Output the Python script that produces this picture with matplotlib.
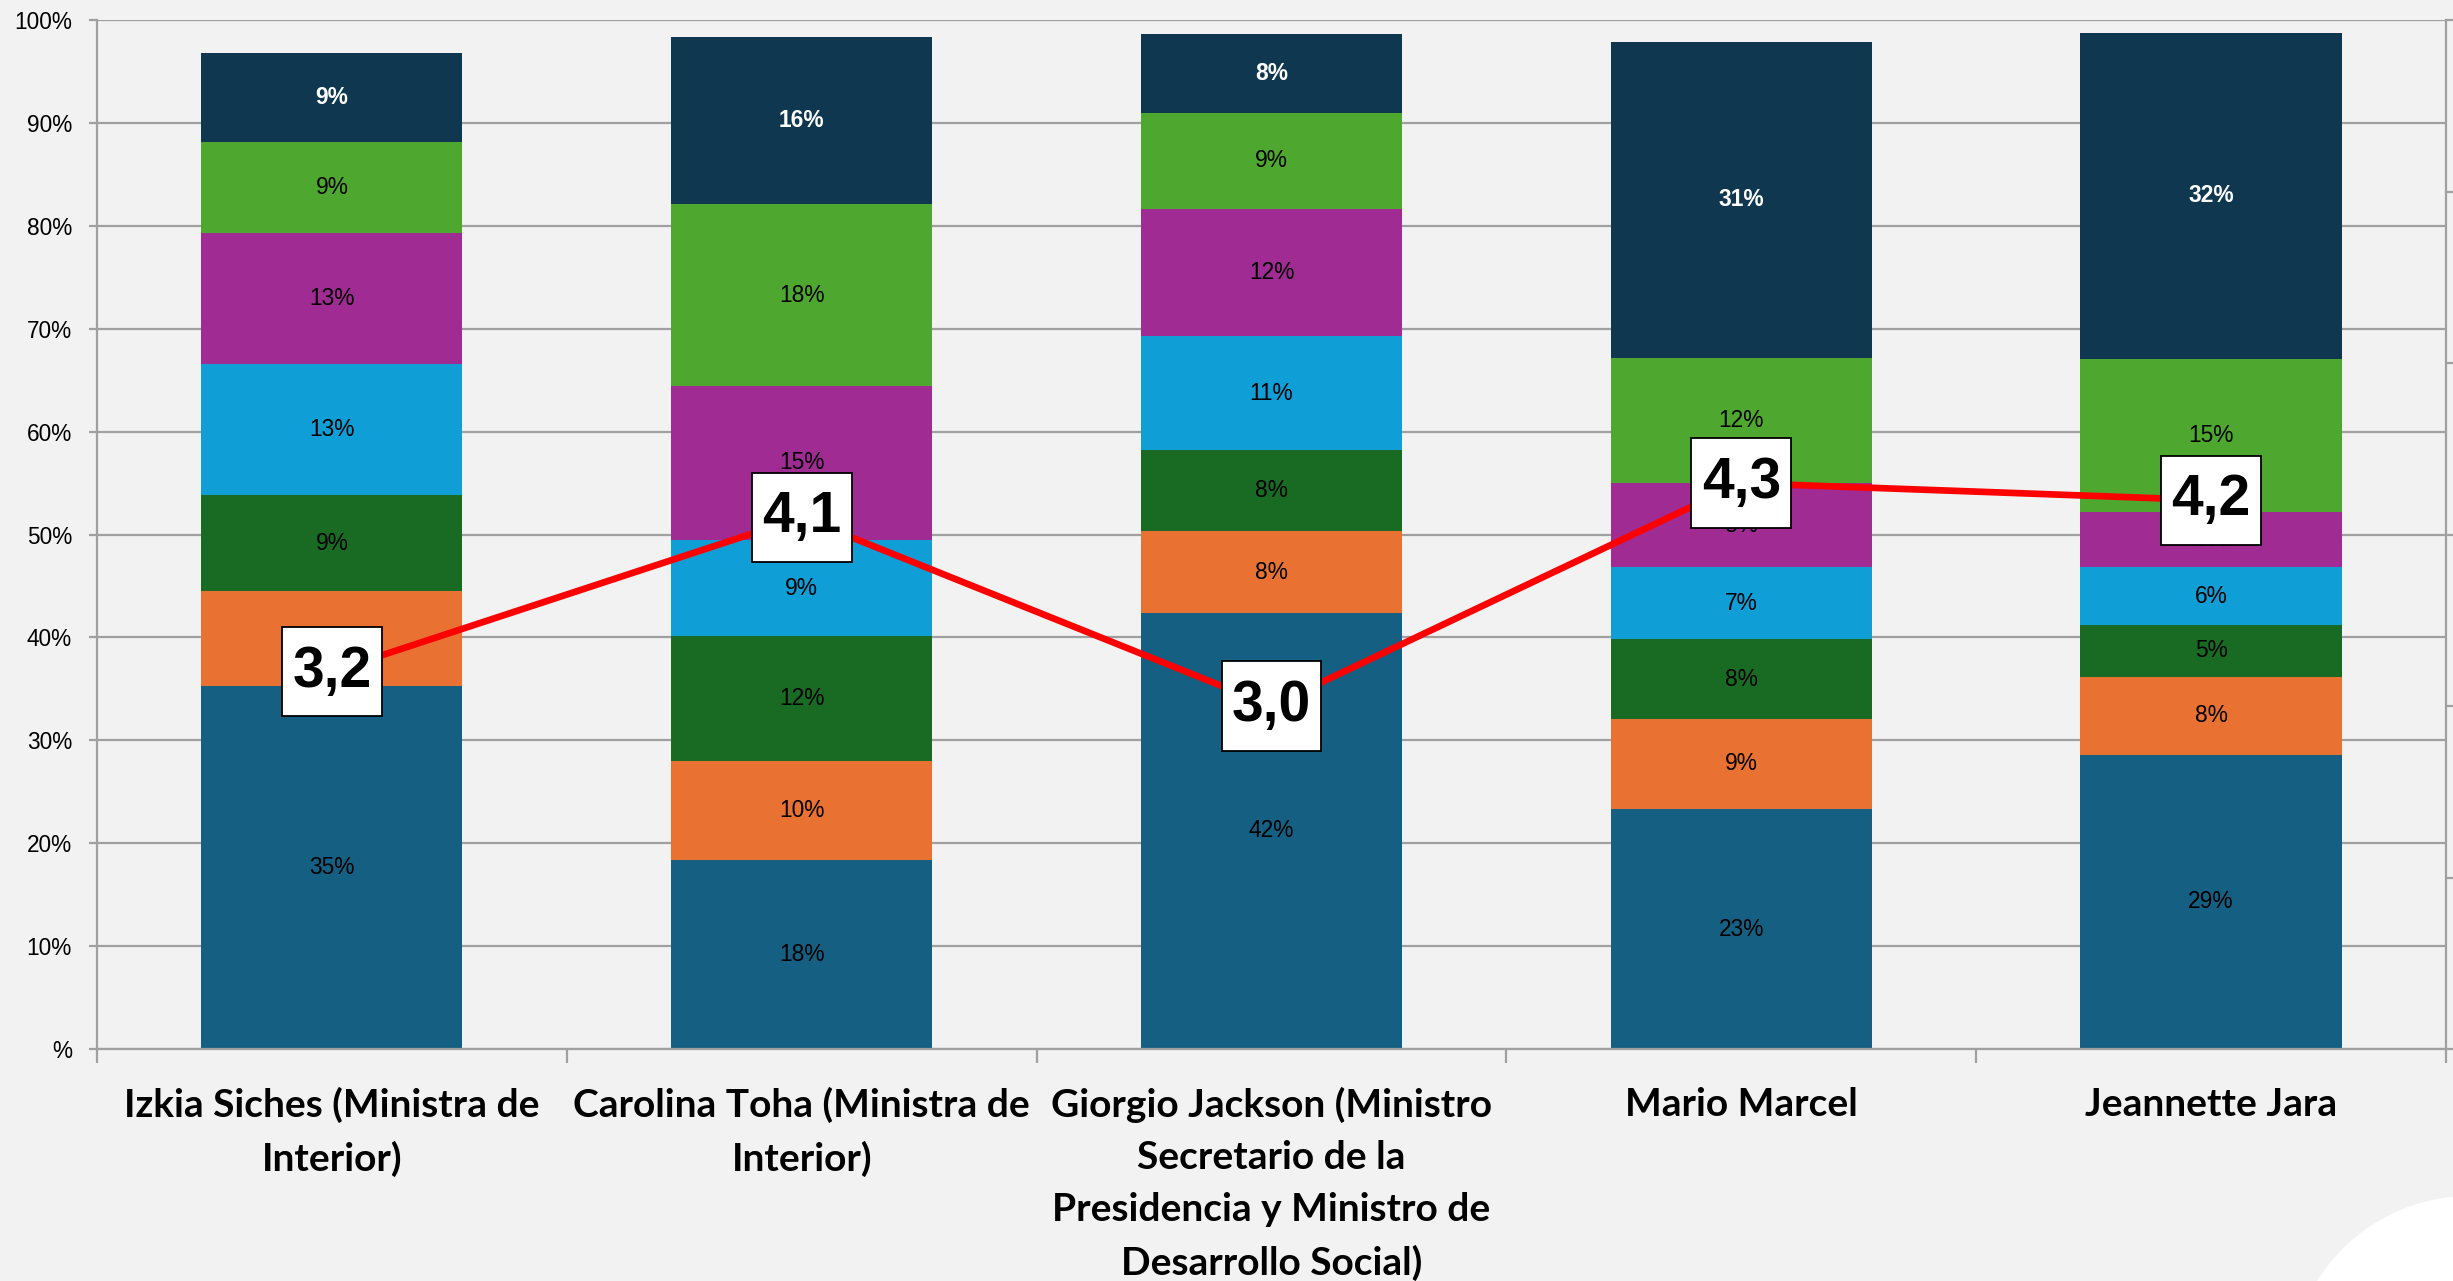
import numpy as np
import matplotlib.pyplot as plt
from matplotlib.patches import Ellipse
from matplotlib.path import Path

# categorias (eje x)
personas = [
    "Izkia Siches (Ministra de\nInterior)",
    "Carolina Toha (Ministra de\nInterior)",
    "Giorgio Jackson (Ministro\nSecretario de la\nPresidencia y Ministro de\nDesarrollo Social)",
    "Mario Marcel",
    "Jeannette Jara",
]

# porcentajes de cada tramo, de abajo hacia arriba
nota_1 = [35.3, 18.4, 42.4, 23.3, 28.6]
nota_2 = [9.2, 9.6, 7.9, 8.8, 7.6]
nota_3 = [9.3, 12.1, 7.9, 7.7, 5.0]
nota_4 = [12.8, 9.4, 11.1, 7.0, 5.6]
nota_5 = [12.7, 14.9, 12.3, 8.2, 5.4]
nota_6 = [8.8, 17.7, 9.4, 12.2, 14.9]
nota_7 = [8.7, 16.2, 7.6, 30.7, 31.6]

# promedio (eje secundario)
promedio = [3.2, 4.1, 3.0, 4.3, 4.2]

y_ticks = [0, 10, 20, 30, 40, 50, 60, 70, 80, 90, 100]
y_labels = ["%", "10%", "20%", "30%", "40%", "50%", "60%", "70%", "80%", "90%", "100%"]

colores = ['#156082', '#E97132', '#196B24', '#0F9ED5', '#A02B93', '#4EA72E', '#0F3850']
fondo = '#F2F2F2'
gris = '#A0A0A0'


def caja(x0, y0, width, height, mutation_size):
    # recuadro con mas relleno vertical que horizontal
    px = 0.18 * mutation_size
    py = 0.31 * mutation_size
    x1, y1 = x0 - px, y0 - py
    x2, y2 = x0 + width + px, y0 + height + py
    return Path([(x1, y1), (x2, y1), (x2, y2), (x1, y2), (x1, y1)], closed=True)


fig = plt.figure(figsize=(24.53, 12.81), dpi=100, facecolor=fondo)
ax = fig.add_axes([0.03954, 0.181108, 0.957606, 0.803279])
ax.set_facecolor(fondo)

# adorno blanco de la esquina
fig.add_artist(Ellipse((2470 / 2453, (1281 - 1376) / 1281), 360 / 2453, 360 / 1281,
                       transform=fig.transFigure, facecolor='white', edgecolor='none', zorder=0))

x = np.arange(len(personas))
tramos = [nota_1, nota_2, nota_3, nota_4, nota_5, nota_6, nota_7]
base = np.zeros(len(personas))
for i, (vals, col) in enumerate(zip(tramos, colores)):
    cont = ax.bar(x, vals, 0.556, bottom=base, color=col, edgecolor='none', zorder=2)
    ultimo = i == len(tramos) - 1
    ax.bar_label(cont, labels=[f"{round(v)}%" for v in vals], label_type='center',
                 fontsize=16.4, family='Liberation Sans',
                 color='white' if ultimo else 'black',
                 fontweight='bold' if ultimo else 'normal', zorder=3)
    base += np.array(vals)

ax.set_xlim(-0.5, len(personas) - 0.5)
ax.set_ylim(0, 100)
ax.set_yticks(y_ticks, y_labels)
ax.yaxis.grid(True, color=gris, lw=1.6)
ax.set_axisbelow(True)
for s in ['top', 'right']:
    ax.spines[s].set_visible(False)
for s in ['left', 'bottom']:
    ax.spines[s].set_color(gris)
    ax.spines[s].set_linewidth(1.6)
ax.tick_params(axis='y', direction='out', length=6, width=1.6, color=gris, pad=12,
               labelsize=16.3)
for t in ax.get_yticklabels():
    t.set_family('Liberation Sans')

ax.set_xticks(x, personas)
ax.set_xticks(np.arange(-0.5, len(personas)), minor=True)
ax.tick_params(axis='x', which='major', length=0, pad=27.5)
ax.tick_params(axis='x', which='minor', direction='out', length=10, width=1.6, color=gris)
for t in ax.get_xticklabels():
    t.set_family('Lato')
    t.set_fontweight('bold')
    t.set_fontsize(28)
    t.set_linespacing(1.58)

# eje secundario con la linea de promedio
ax2 = ax.twinx()
ax2.set_ylim(1, 7)
ax2.set_yticks(range(1, 8))
ax2.set_yticklabels([])
for s in ['top', 'left', 'bottom']:
    ax2.spines[s].set_visible(False)
ax2.spines['right'].set_color(gris)
ax2.spines['right'].set_linewidth(1.6)
ax2.tick_params(axis='y', direction='out', length=6, width=1.6, color=gris)
ax2.plot(x, promedio, color='red', lw=4.8, zorder=3, solid_capstyle='butt')
for xi, v in zip(x, promedio):
    ax2.text(xi, v, f"{v:.1f}".replace('.', ','), ha='center', va='center',
             fontsize=41, fontweight='bold', family='Liberation Sans', zorder=4,
             bbox=dict(boxstyle=caja, facecolor='white',
                       edgecolor='black', linewidth=1.3))

fig.savefig('out.png', dpi=100, facecolor=fondo)
